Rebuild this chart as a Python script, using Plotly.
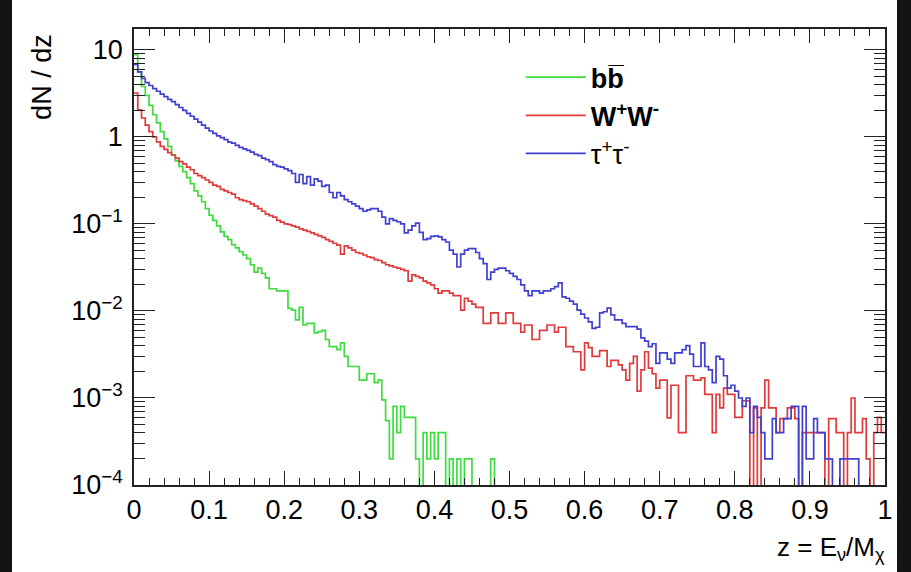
import numpy as np
import plotly.graph_objects as go

# Neutrino spectra dN/dz per channel, 200 bins in z = E_nu / M_chi over [0, 1]
N_BINS = 200
Z_MIN, Z_MAX = 0.0, 1.0

bb = [
    8.8, 5.6, 3.8, 3.0, 2.3, 1.8, 1.45, 1.15, 0.95, 0.78,
    0.62, 0.53, 0.46, 0.40, 0.34, 0.29, 0.24, 0.21, 0.18, 0.15,
    0.126, 0.11, 0.095, 0.081, 0.072, 0.066, 0.058, 0.053, 0.048, 0.044,
    0.040, 0.034, 0.028, 0.031, 0.027, 0.024, 0.018, 0.018, 0.017, 0.017,
    0.017, 0.0107, 0.0102, 0.0079, 0.011, 0.0069, 0.0072, 0.0072, 0.0056, 0.0058,
    0.006, 0.0047, 0.0039, 0.0039, 0.0036, 0.0043, 0.003, 0.0023, 0.0023, 0.0023,
    0.0016, 0.0016, 0.0019, 0.0019, 0.0015, 0.0016, 0.00095, 0.00055, 0.0002, 0.0008,
    0.0004, 0.0008, 0.0006, 0.0006, 0.0006, 0.0002, 0.0, 0.0004, 0.0002, 0.0004,
    0.0002, 0.0004, 0.0004, 0.0, 0.0002, 0.0, 0.0002, 0.0, 0.0002, 0.0002,
    0.0, 0.0, 0.0, 0.0, 0.0, 0.0002, 0.0, 0.0, 0.0, 0.0,
] + [0.0] * 100

ww = [
    3.2, 2.05, 1.65, 1.37, 1.15, 1.0, 0.88, 0.78, 0.72, 0.66,
    0.62, 0.57, 0.52, 0.49, 0.45, 0.42, 0.38, 0.36, 0.34, 0.32,
    0.30, 0.28, 0.27, 0.25, 0.24, 0.23, 0.22, 0.20, 0.19, 0.185,
    0.18, 0.17, 0.16, 0.15, 0.14, 0.13, 0.125, 0.12, 0.11, 0.105,
    0.10, 0.098, 0.095, 0.092, 0.088, 0.085, 0.082, 0.079, 0.076, 0.073,
    0.070, 0.066, 0.063, 0.060, 0.057, 0.045, 0.056, 0.053, 0.050, 0.047,
    0.046, 0.044, 0.042, 0.041, 0.039, 0.038, 0.036, 0.034, 0.033, 0.032,
    0.031, 0.030, 0.029, 0.022, 0.026, 0.025, 0.024, 0.022, 0.021, 0.020,
    0.018, 0.016, 0.017, 0.017, 0.016, 0.015, 0.015, 0.0102, 0.014, 0.013,
    0.012, 0.011, 0.011, 0.0072, 0.0072, 0.0095, 0.0095, 0.0072, 0.0072, 0.0095,
    0.0095, 0.0072, 0.0072, 0.0057, 0.0069, 0.0069, 0.0047, 0.0047, 0.006, 0.006,
    0.0069, 0.0069, 0.0057, 0.0065, 0.0065, 0.0039, 0.0039, 0.0034, 0.0034, 0.0021,
    0.0043, 0.0038, 0.003, 0.003, 0.0035, 0.0035, 0.0023, 0.0027, 0.0027, 0.0024,
    0.0021, 0.0016, 0.0025, 0.003, 0.0012, 0.0021, 0.0034, 0.0022, 0.0019, 0.0013,
    0.0016, 0.0016, 0.00059, 0.0014, 0.0014, 0.0004, 0.0004, 0.0018, 0.0018, 0.0016,
    0.0016, 0.0017, 0.0011, 0.0011, 0.0004, 0.0011, 0.00077, 0.0013, 0.0011, 0.0011,
    0.0006, 0.0006, 0.00093, 0.00093, 0.0, 0.00077, 0.0, 0.00077, 0.0016, 0.00077,
    0.00077, 0.0004, 0.00058, 0.00058, 0.00077, 0.00077, 0.00058, 0.0, 0.0004, 0.0004,
    0.0004, 0.0004, 0.0004, 0.0004, 0.0, 0.00058, 0.00058, 0.0004, 0.0004, 0.0,
    0.0004, 0.001, 0.0004, 0.0004, 0.00058, 0.0002, 0.0, 0.0004, 0.0006, 0.0004,
]

tautau = [
    6.8, 5.6, 4.7, 4.2, 3.9, 3.6, 3.35, 3.1, 2.9, 2.7,
    2.55, 2.35, 2.18, 2.02, 1.87, 1.73, 1.6, 1.48, 1.37, 1.26,
    1.17, 1.1, 1.03, 0.98, 0.93, 0.87, 0.85, 0.80, 0.76, 0.73,
    0.70, 0.67, 0.63, 0.61, 0.57, 0.55, 0.52, 0.48, 0.46, 0.45,
    0.43, 0.41, 0.38, 0.30, 0.37, 0.29, 0.35, 0.28, 0.33, 0.31,
    0.27, 0.28, 0.23, 0.20, 0.23, 0.21, 0.19, 0.18, 0.17, 0.16,
    0.15, 0.14, 0.145, 0.15, 0.15, 0.14, 0.12, 0.10, 0.115, 0.11,
    0.106, 0.10, 0.079, 0.085, 0.095, 0.102, 0.08, 0.066, 0.068, 0.072,
    0.073, 0.071, 0.066, 0.062, 0.05, 0.045, 0.032, 0.045, 0.05, 0.052,
    0.052, 0.047, 0.04, 0.035, 0.023, 0.028, 0.030, 0.031, 0.031, 0.029,
    0.027, 0.025, 0.023, 0.02, 0.017, 0.015, 0.017, 0.017, 0.016, 0.017,
    0.017, 0.018, 0.019, 0.021, 0.0145, 0.014, 0.013, 0.012, 0.0102, 0.0092,
    0.0083, 0.0075, 0.0063, 0.0065, 0.0095, 0.0098, 0.0108, 0.009, 0.0079, 0.0079,
    0.0072, 0.0066, 0.0066, 0.0066, 0.0062, 0.0049, 0.0045, 0.0039, 0.0042, 0.0025,
    0.0033, 0.0033, 0.0028, 0.0025, 0.0033, 0.0033, 0.0036, 0.004, 0.0032, 0.0023,
    0.0023, 0.0043, 0.0023, 0.0021, 0.0015, 0.003, 0.0028, 0.0018, 0.0013, 0.0014,
    0.0012, 0.001, 0.0008, 0.001, 0.0004, 0.0008, 0.0006, 0.0004, 0.0002, 0.0002,
    0.00058, 0.0004, 0.0004, 0.00058, 0.00058, 0.0008, 0.0008, 0.0, 0.0008, 0.0002,
    0.0002, 0.00058, 0.0004, 0.0004, 0.0002, 0.0002, 0.0, 0.0, 0.0002, 0.0002,
    0.0002, 0.0002, 0.0002, 0.0, 0.0, 0.0, 0.0, 0.0, 0.0, 0.0,
]

series = [
    ("<b>bb\u0305</b>", bb, "#3fdc3f"),
    ("<b>W<sup>+</sup>W<sup>-</sup></b>", ww, "#e03a3a"),
    ("\u03c4<sup>+</sup>\u03c4<sup>-</sup>", tautau, "#4040d0"),
]

y_tickvals = [1e-4, 1e-3, 1e-2, 1e-1, 1, 10]
y_ticktext = ["10<sup>\u22124</sup>", "10<sup>\u22123</sup>", "10<sup>\u22122</sup>",
              "10<sup>\u22121</sup>", "1", "10"]

edges = np.linspace(Z_MIN, Z_MAX, N_BINS + 1)
FLOOR = 1e-7  # empty bins drop below the visible range, as in a log-scale histogram

fig = go.Figure()
for i, (name, vals, color) in enumerate(series):
    v = np.array(vals, dtype=float)
    v = np.where(v > 0, v, FLOOR)
    y = np.append(v, v[-1])
    fig.add_trace(go.Scatter(
        x=edges, y=y, mode="lines", name=name, legendgroup=f"g{i}",
        line=dict(color=color, width=1.7, shape="hv"),
        hoverinfo="skip",
    ))

FONT = "Liberation Sans, Arial, Helvetica, sans-serif"
AXIS_COLOR = "#222"

fig.update_layout(
    width=911, height=572,
    margin=dict(l=134, r=26, t=29, b=87),
    paper_bgcolor="white", plot_bgcolor="white",
    font=dict(family=FONT, size=27, color="black"),
    showlegend=True,
    legend=dict(
        x=0.515, y=0.947, xanchor="left", yanchor="top",
        bgcolor="rgba(0,0,0,0)", borderwidth=0,
        font=dict(size=27, color="black"),
        tracegroupgap=0, itemwidth=60,
    ),
    xaxis=dict(
        range=[Z_MIN, Z_MAX], dtick=0.1, tick0=0,
        showline=True, linecolor=AXIS_COLOR, linewidth=1.5, mirror="allticks",
        ticks="inside", ticklen=14, tickwidth=1.3, tickcolor=AXIS_COLOR,
        minor=dict(dtick=0.02, ticks="inside", ticklen=7, tickwidth=1.3, tickcolor=AXIS_COLOR),
        showgrid=False, zeroline=False,
        tickfont=dict(size=27),
    ),
    yaxis=dict(
        type="log", range=[-4, np.log10(17.4)],
        tickvals=y_tickvals, ticktext=y_ticktext,
        showline=True, linecolor=AXIS_COLOR, linewidth=1.5, mirror="allticks",
        ticks="inside", ticklen=21, tickwidth=1.3, tickcolor=AXIS_COLOR,
        minor=dict(dtick="D1", ticks="inside", ticklen=11, tickwidth=1.3, tickcolor=AXIS_COLOR),
        showgrid=False, zeroline=False,
        tickfont=dict(size=27), ticklabelstandoff=4,
    ),
    annotations=[
        dict(text="dN / dz", textangle=-90, xref="paper", yref="paper",
             x=0, y=0.895, xshift=-92, xanchor="center", yanchor="middle",
             showarrow=False, font=dict(size=27)),
        dict(text="z = E<sub>\u03bd</sub>/M<sub>\u03c7</sub>", xref="paper", yref="paper",
             x=1, y=0, xshift=2, yshift=-63, xanchor="right", yanchor="middle",
             showarrow=False, font=dict(size=26)),
    ],
    shapes=[
        dict(type="rect", xref="paper", yref="paper", x0=-0.2, x1=-134 / 751 + 12 / 751,
             y0=-0.3, y1=1.2, fillcolor="#141414", line=dict(width=0), layer="below"),
        dict(type="rect", xref="paper", yref="paper", x0=1 + 12 / 751, x1=1.1,
             y0=-0.3, y1=1.2, fillcolor="#141414", line=dict(width=0), layer="below"),
    ],
)

fig.write_html("out.html")
